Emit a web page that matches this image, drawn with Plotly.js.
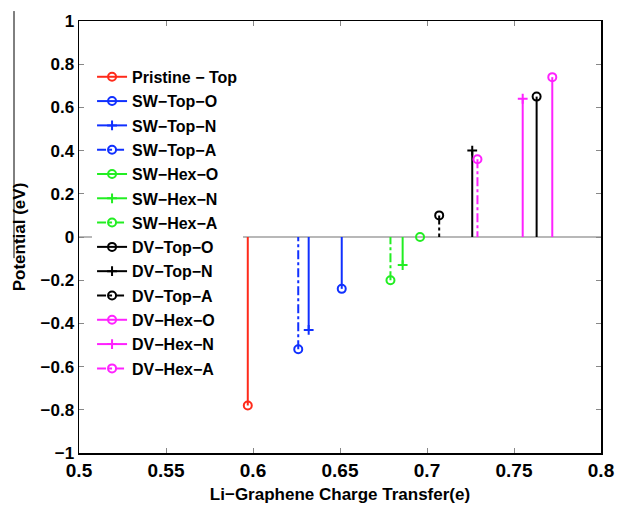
<!DOCTYPE html>
<html>
<head>
<meta charset="utf-8">
<script src="https://cdn.plot.ly/plotly-3.0.1.min.js"></script>
<style>html,body{margin:0;padding:0;background:#fff;}#chart{width:619px;height:507px;}</style>
</head>
<body>
<div id="chart"></div>
<script>
// Series names, charge transfer (x) and potential (y)
var seriesNames = ["Pristine − Top","SW−Top−O","SW−Top−N","SW−Top−A","SW−Hex−O","SW−Hex−N","SW−Hex−A","DV−Top−O","DV−Top−N","DV−Top−A","DV−Hex−O","DV−Hex−N","DV−Hex−A"];
var chargeTransfer = [0.597, 0.651, 0.632, 0.626, 0.696, 0.686, 0.679, 0.763, 0.726, 0.707, 0.772, 0.755, 0.729];
var potential =      [-0.78, -0.24, -0.43, -0.52, 0.00, -0.13, -0.20, 0.65, 0.40, 0.10, 0.74, 0.64, 0.36];
var seriesColors = ["#ff2a1a","#1030ff","#1030ff","#1030ff","#22ee22","#22ee22","#22ee22","#000000","#000000","#000000","#ff22ff","#ff22ff","#ff22ff"];
var seriesKinds =  ["O","O","N","A","O","N","A","O","N","A","O","N","A"];

var xTickVals = [0.5,0.55,0.6,0.65,0.7,0.75,0.8];
var xTickText = ["0.5","0.55","0.6","0.65","0.7","0.75","0.8"];
var yTickVals = [-1,-0.8,-0.6,-0.4,-0.2,0,0.2,0.4,0.6,0.8,1];
var yTickText = ["−1","−0.8","−0.6","−0.4","−0.2","0","0.2","0.4","0.6","0.8","1"];

var traces = seriesNames.map(function(name, i){
  var kind = seriesKinds[i];
  return {
    type: 'scatter',
    mode: 'lines+markers',
    name: name,
    legendgroup: 'g' + i,
    x: [chargeTransfer[i], chargeTransfer[i]],
    y: [potential[i], 0],
    line: {color: seriesColors[i], width: 2, dash: kind === 'A' ? 'dashdot' : 'solid'},
    marker: {
      symbol: kind === 'N' ? 'cross-thin-open' : 'circle-open',
      size: kind === 'N' ? 7 : 8,
      color: [seriesColors[i], 'rgba(0,0,0,0)'],
      line: {width: 2}
    },
    cliponaxis: false
  };
});

var layout = {
  width: 619, height: 507,
  margin: {l: 79, r: 18, t: 21, b: 54},
  paper_bgcolor: '#fff', plot_bgcolor: '#fff',
  font: {family: 'Liberation Sans, Arial, sans-serif', color: '#000'},
  showlegend: true,
  legend: {
    x: 0.025, y: 0.91, xanchor: 'left', yanchor: 'top',
    bgcolor: '#fff', borderwidth: 0,
    font: {size: 16, family: 'Liberation Sans, Arial, sans-serif', weight: 'bold'},
    traceorder: 'grouped', tracegroupgap: 0.5, itemwidth: 30
  },
  xaxis: {
    range: [0.5, 0.8], tickvals: xTickVals, ticktext: xTickText,
    ticks: 'inside', ticklen: 5, tickcolor: '#888', showgrid: false, zeroline: false,
    showline: true, linecolor: '#000', linewidth: 1.5, mirror: 'ticks',
    tickfont: {size: 19, weight: 'bold'},
    title: {text: 'Li−Graphene Charge Transfer(e)', font: {size: 17, weight: 'bold'}, standoff: 8}
  },
  yaxis: {
    range: [-1, 1], tickvals: yTickVals, ticktext: yTickText,
    ticks: 'inside', ticklen: 5, tickcolor: '#888', showgrid: false, zeroline: false,
    showline: true, linecolor: '#000', linewidth: 1.5, mirror: 'ticks',
    tickfont: {size: 17, weight: 'bold'},
    title: {text: 'Potential (eV)', font: {size: 17, weight: 'bold'}, standoff: 10}
  },
  shapes: [
    {type: 'line', xref: 'paper', yref: 'y', x0: 0, x1: 1, y0: 0, y1: 0, layer: 'below', line: {color: '#a0a0a0', width: 1.5}},
    {type: 'line', xref: 'paper', yref: 'paper', x0: -0.1245, x1: -0.1245, y0: 1.023, y1: 0.451, line: {color: '#000', width: 1}}
  ]
};

Plotly.newPlot('chart', traces, layout, {displayModeBar: false, staticPlot: true});
</script>
</body>
</html>
